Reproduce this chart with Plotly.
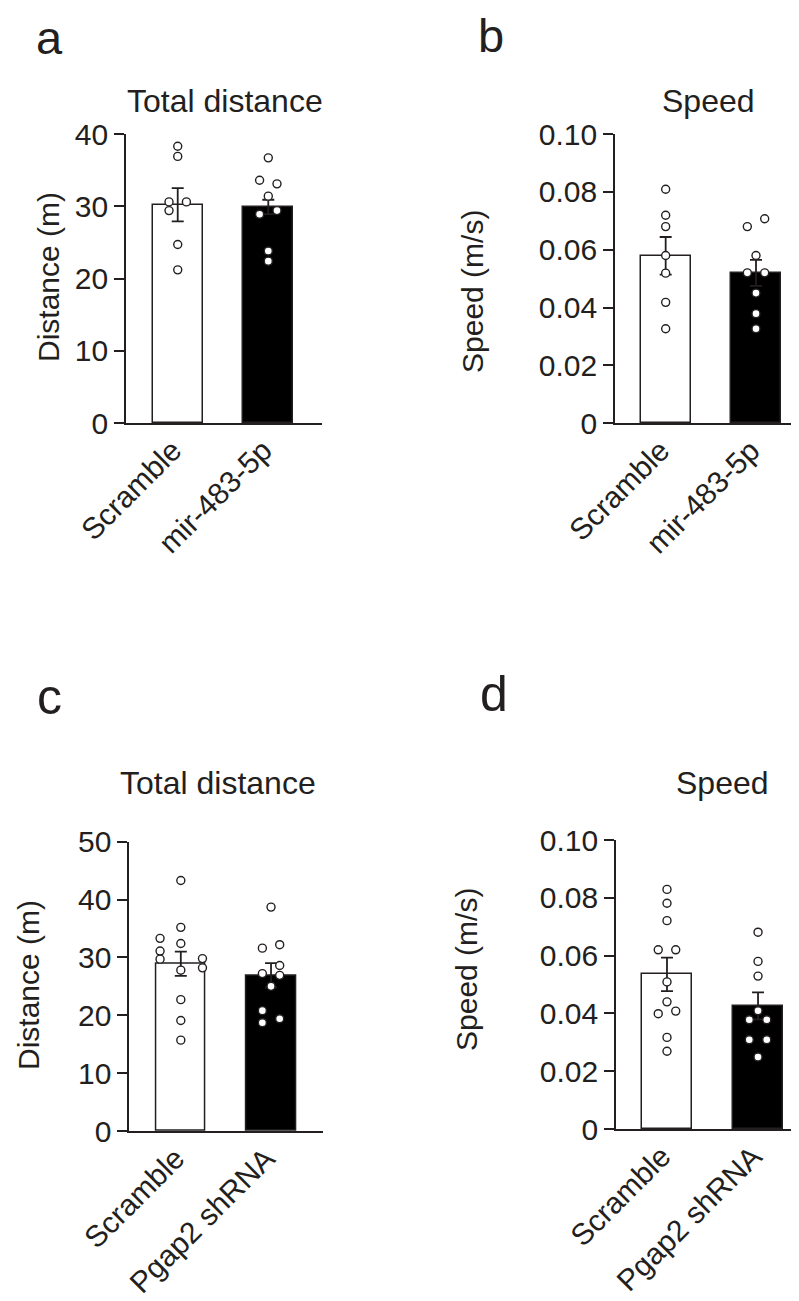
import plotly.graph_objects as go

W, H = 799, 1301
OFF = 8  # page body margin of the html page

# ---------------- data ----------------
groups_ab = ["Scramble", "mir-483-5p"]
groups_cd = ["Scramble", "Pgap2 shRNA"]

# panel a: total distance (m)
a_scr = [38.3, 36.9, 30.6, 30.6, 29.4, 24.7, 21.2]
a_mir = [36.7, 33.6, 33.1, 31.4, 28.9, 29.4, 23.8, 22.4]
a_mean = [30.2, 29.9]
a_sem = [2.3, 1.0]

# panel b: speed (m/s)
b_scr = [0.0809, 0.0719, 0.0680, 0.0580, 0.0519, 0.0418, 0.0327]
b_mir = [0.0680, 0.0707, 0.0580, 0.0520, 0.0520, 0.0450, 0.0379, 0.0327]
b_mean = [0.0579, 0.0520]
b_sem = [0.0065, 0.0045]

# panel c: total distance (m)
c_scr = [43.3, 35.2, 33.3, 32.4, 31.1, 29.7, 29.8, 28.2, 27.8, 22.7, 19.1, 15.7]
c_sh = [38.7, 32.2, 31.6, 28.6, 27.2, 26.9, 25.0, 20.8, 19.4, 18.7]
c_mean = [28.9, 26.9]
c_sem = [2.1, 2.1]

# panel d: speed (m/s)
d_scr = [0.0829, 0.0781, 0.0721, 0.0620, 0.0620, 0.0509, 0.0440, 0.0408, 0.0399, 0.0317, 0.0269]
d_sh = [0.0681, 0.0580, 0.0529, 0.0409, 0.0378, 0.0378, 0.0309, 0.0309, 0.0249]
d_mean = [0.0535, 0.0426]
d_sem = [0.0058, 0.0047]

# horizontal scatter offsets of the dots (category units)
a_scr_dx = [0, 0, -0.096, 0.096, -0.096, 0, 0]
a_mir_dx = [0, -0.096, 0.096, 0, -0.096, 0.096, 0, 0]
b_scr_dx = [0, 0, 0, 0, 0, 0, 0]
b_mir_dx = [-0.096, 0.096, 0, -0.096, 0.096, 0, 0, 0]
c_scr_dx = [0, 0, -0.23, 0, -0.23, -0.23, 0.24, 0.24, 0, 0, 0, 0]
c_sh_dx = [0, 0.096, -0.096, 0.096, -0.096, 0.096, 0, -0.096, 0.096, -0.096]
d_scr_dx = [0, 0, 0, -0.096, 0.096, 0, 0, 0.096, -0.096, 0, 0]
d_sh_dx = [0, 0, 0, 0, -0.096, 0.096, -0.096, 0.096, 0]

dist_ticks = [0, 10, 20, 30, 40, 50]
speed_ticks = [0, 0.02, 0.04, 0.06, 0.08, 0.10]
speed_ticktext = ["0", "0.02", "0.04", "0.06", "0.08", "0.10"]

# ---------------- style ----------------
FONT = "Liberation Sans, Arial, Helvetica, sans-serif"
TXT = "#231f20"
LINE = "#231f20"


def px_x(p):
    return (p - OFF) / W


def px_y(p):
    return 1 - (p - OFF) / H


panels = [
    ("1", groups_ab, a_scr, a_mir, a_scr_dx, a_mir_dx, a_mean, a_sem, 40,
     dist_ticks[:5], None, (126, 322), (423, 134), (-0.571, 1.593)),
    ("2", groups_ab, b_scr, b_mir, b_scr_dx, b_mir_dx, b_mean, b_sem, 0.10,
     speed_ticks, speed_ticktext, (615, 799), (423.3, 134), (-0.561, 1.476)),
    ("3", groups_cd, c_scr, c_sh, c_scr_dx, c_sh_dx, c_mean, c_sem, 50,
     dist_ticks, None, (129.3, 323), (1131, 841.7), (-0.571, 1.576)),
    ("4", groups_cd, d_scr, d_sh, d_scr_dx, d_sh_dx, d_mean, d_sem, 0.10,
     speed_ticks, speed_ticktext, (616, 799), (1129, 840), (-0.56, 1.45)),
]

fig = go.Figure()
layout = {}

for key, groups, p1, p2, dx1, dx2, mean, sem, ymax, ticks, ttext, xd, yd, xr in panels:
    xa = "x" if key == "1" else "x" + key
    ya = "y" if key == "1" else "y" + key
    fig.add_trace(go.Bar(
        x=[0, 1], y=mean, width=0.55,
        marker=dict(color=["white", "black"], line=dict(color=LINE, width=1.5)),
        error_y=dict(type="data", array=sem, visible=True, color=LINE,
                     thickness=1.8, width=6),
        xaxis=xa, yaxis=ya, showlegend=False, hoverinfo="skip",
    ))
    for gi, (pts, dx) in enumerate([(p1, dx1), (p2, dx2)]):
        fig.add_trace(go.Scatter(
            x=[gi + d for d in dx], y=pts, mode="markers",
            marker=dict(size=8, color="white", line=dict(color=LINE, width=1.4)),
            xaxis=xa, yaxis=ya, showlegend=False, hoverinfo="skip",
            cliponaxis=False,
        ))
    xname = "xaxis" if key == "1" else "xaxis" + key
    yname = "yaxis" if key == "1" else "yaxis" + key
    layout[xname] = dict(
        domain=[px_x(xd[0]), min(px_x(xd[1]), 1.0)], range=list(xr),
        anchor=ya, showgrid=False, zeroline=False, automargin=False,
        showline=True, linecolor=LINE, linewidth=1.8,
        tickmode="array", tickvals=[0, 1], ticktext=groups, ticks="",
        tickangle=-45, ticklabelshift=-5, ticklabelstandoff=-4,
        tickfont=dict(family=FONT, size=30, color=TXT),
    )
    layout[yname] = dict(
        domain=[px_y(yd[0]), px_y(yd[1])], range=[0, ymax],
        anchor=xa, showgrid=False, zeroline=False, automargin=False,
        showline=True, linecolor=LINE, linewidth=1.8,
        tickmode="array", tickvals=ticks,
        ticktext=ttext if ttext else [str(t) for t in ticks],
        ticks="outside", ticklen=10, tickwidth=1.8, tickcolor=LINE,
        tickfont=dict(family=FONT, size=30, color=TXT),
    )

annotations = []


def add_text(text, x, y, size, angle=0, xanchor="center", yanchor="middle", height=None):
    ann = dict(
        text=text, x=px_x(x), y=px_y(y), xref="paper", yref="paper",
        showarrow=False, textangle=angle, xanchor=xanchor, yanchor=yanchor,
        font=dict(family=FONT, size=size, color=TXT),
    )
    if height:
        ann["height"] = height
    annotations.append(ann)


# panel letters
add_text("a", 49, 37, 47, height=40)
add_text("b", 491, 35, 47, height=40)
add_text("c", 49, 697, 50, height=40)
add_text("d", 494, 694, 50, height=40)
# titles
add_text("Total distance", 225, 101, 32)
add_text("Speed", 708, 101, 32)
add_text("Total distance", 218, 783, 32)
add_text("Speed", 722, 783, 32)
# y axis titles
add_text("Distance (m)", 48, 277, 30, angle=-90)
add_text("Speed (m/s)", 472, 291, 30, angle=-90)
add_text("Distance (m)", 28, 985, 30, angle=-90)
add_text("Speed (m/s)", 467, 970, 30, angle=-90)

fig.update_layout(
    width=W, height=H, margin=dict(l=0, r=0, t=0, b=0, autoexpand=False),
    paper_bgcolor="white", plot_bgcolor="white",
    bargap=0, annotations=annotations, **layout,
)

fig.write_html("out.html")
